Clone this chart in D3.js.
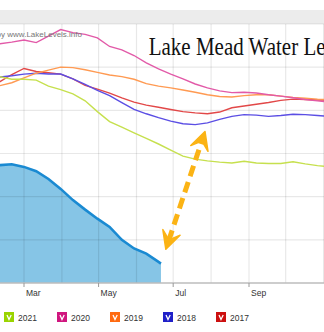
<!DOCTYPE html>
<html>
  <head>
    <meta charset="utf-8">
    <title>Lake Mead Water Levels</title>
    <style>
body {
  margin: 0;
  background: #fff;
}
svg {
  display: block;
}
    </style>
  </head>
  <body>
    <div id="chart"></div>
    <script src="https://cdn.jsdelivr.net/npm/d3@7/dist/d3.min.js"></script>
    <script>

    // sample dates (month-day), every 10 days
    var days = ['02-09', '02-19', '03-01', '03-11', '03-21', '03-31', '04-10', '04-20', '04-30',
                '05-10', '05-20', '05-30', '06-09', '06-19', '06-29', '07-09', '07-19', '07-29',
                '08-08', '08-18', '08-28', '09-07', '09-17', '09-27', '10-07', '10-17', '10-27', '11-06'];

    // lake elevation, feet
    var level2021 = [1087.8, 1087.2, 1087.2, 1087.0, 1085.6, 1084.8, 1083.8, 1082.2, 1079.7,
                     1077.4, 1076.1, 1074.8, 1073.5, 1072.2, 1070.8, 1069.4, 1068.7, 1068.3,
                     1068.0, 1067.8, 1068.2, 1067.8, 1067.7, 1067.7, 1068.1, 1067.6, 1067.2, 1066.9];
    var level2020 = [1095.4, 1095.8, 1096.3, 1095.7, 1097.2, 1098.7, 1098.0, 1097.6, 1096.8,
                     1094.8, 1094.0, 1092.7, 1091.0, 1089.6, 1088.4, 1087.3, 1086.1, 1085.2,
                     1084.5, 1084.1, 1084.2, 1084.0, 1083.6, 1083.3, 1082.9, 1082.5, 1082.2, 1081.9];
    var level2019 = [1085.7, 1086.4, 1087.5, 1088.6, 1089.3, 1090.0, 1089.9, 1089.4, 1088.8,
                     1088.2, 1087.8, 1087.2, 1086.2, 1085.6, 1085.2, 1084.7, 1084.2, 1083.6,
                     1083.2, 1083.1, 1083.4, 1083.6, 1083.6, 1083.3, 1083.0, 1082.8, 1082.6, 1082.5];
    var level2018 = [1087.7, 1088.0, 1088.4, 1088.6, 1088.4, 1088.4, 1087.3, 1086.0, 1084.6,
                     1083.4, 1081.8, 1080.2, 1079.2, 1078.3, 1077.5, 1076.9, 1076.7, 1077.1,
                     1077.9, 1078.6, 1079.0, 1078.9, 1078.6, 1078.8, 1079.1, 1079.0, 1078.8, 1078.6];
    var level2017 = [1086.6, 1088.3, 1089.7, 1089.0, 1088.7, 1088.4, 1087.3, 1085.8, 1084.9,
                     1084.0, 1082.9, 1081.9, 1081.2, 1080.7, 1080.2, 1079.7, 1079.4, 1079.2,
                     1079.6, 1080.6, 1081.0, 1081.4, 1081.8, 1082.3, 1082.6, 1082.5, 1082.4, 1082.4];

    // current year, shown as area
    var days2022 = ['02-09', '02-19', '03-01', '03-11', '03-21', '03-31', '04-10', '04-20', '04-30',
                    '05-10', '05-20', '05-30', '06-09', '06-19', '06-21'];
    var level2022 = [1067.3, 1067.5, 1066.9, 1065.9, 1064.1, 1061.8, 1059.2, 1057.0, 1054.9,
                     1053.0, 1050.0, 1048.0, 1046.8, 1044.9, 1044.5];

    var years = ['2021', '2020', '2019', '2018', '2017'];
    var lineColors = ['#c6e04e', '#e25aa8', '#ff9a52', '#5b4ee4', '#e24848'];
    var boxColors = ['#9ad400', '#d0167f', '#ff6a10', '#2020c8', '#cc1010'];
    var yearLevels = [level2021, level2020, level2019, level2018, level2017];

    var monthLabels = ['Mar', 'May', 'Jul', 'Sep'];
    var levelTicks = [1040, 1050, 1060, 1070, 1080, 1090, 1100];

    // annotation arrow endpoints [date, level]
    var arrowFrom = ['06-25', 1047.8],
        arrowTo = ['07-27', 1075.1];

    var parseDay = function(s) { return d3.utcParse('%Y-%m-%d')('2022-' + s); };

    var width = 324,
        height = 332;

    var x = d3.scaleUtc()
        .domain([parseDay('03-01'), parseDay('09-01')])
        .range([24, 249]);

    var y = d3.scaleLinear()
        .domain([1040, 1100])
        .range([283, 24]);

    var svg = d3.select('#chart').append('svg')
        .attr('width', width)
        .attr('height', height)
        .style('font-family', '"Liberation Sans", Arial, sans-serif');

    // header band
    svg.append('rect')
        .attr('x', 0)
        .attr('y', 10)
        .attr('width', width)
        .attr('height', 14)
        .style('fill', '#ececec');

    // current year area
    var pts2022 = days2022.map(function(d, i) { return [parseDay(d), level2022[i]]; });
    var area = d3.area()
        .x(function(d) { return x(d[0]); })
        .y0(y(1040))
        .y1(function(d) { return y(d[1]); });
    var topLine = d3.line()
        .x(function(d) { return x(d[0]); })
        .y(function(d) { return y(d[1]); });

    svg.append('path')
        .datum(pts2022)
        .attr('d', area)
        .style('fill', '#86c5e6');

    // grid
    var months = d3.utcMonth.range(parseDay('02-01'), parseDay('12-01'));
    svg.append('g').selectAll('line')
        .data(months)
        .enter()
        .append('line')
            .attr('x1', function(d) { return x(d); })
            .attr('x2', function(d) { return x(d); })
            .attr('y1', y(1100))
            .attr('y2', y(1040))
            .style('stroke', 'rgba(0,0,0,0.09)')
            .style('stroke-width', 1.2);
    svg.append('g').selectAll('line')
        .data(levelTicks.slice(1))
        .enter()
        .append('line')
            .attr('x1', 0)
            .attr('x2', width)
            .attr('y1', function(d) { return y(d); })
            .attr('y2', function(d) { return y(d); })
            .style('stroke', 'rgba(0,0,0,0.09)')
            .style('stroke-width', 1.2);

    svg.append('path')
        .datum(pts2022)
        .attr('d', topLine)
        .style('fill', 'none')
        .style('stroke', '#1a8ad2')
        .style('stroke-width', 2.6);

    // past years
    var line = d3.line()
        .x(function(d, i) { return x(parseDay(days[i])); })
        .y(function(d) { return y(d); });

    svg.append('g').selectAll('path')
        .data(yearLevels.slice().reverse())
        .enter()
        .append('path')
            .attr('d', line)
            .style('fill', 'none')
            .style('stroke', function(d, i) { return lineColors.slice().reverse()[i]; })
            .style('stroke-width', 1.4);

    // x axis
    svg.append('line')
        .attr('x1', 0)
        .attr('x2', width)
        .attr('y1', y(1040))
        .attr('y2', y(1040))
        .style('stroke', '#bdbdbd')
        .style('stroke-width', 1.5);

    var labelMonths = months.filter(function(d) { return monthLabels.indexOf(d3.utcFormat('%b')(d)) >= 0; });
    var ticks = svg.append('g').selectAll('g')
        .data(labelMonths)
        .enter()
        .append('g')
            .attr('transform', function(d) { return 'translate(' + x(d) + ',' + y(1040) + ')'; });
    ticks.append('line')
        .attr('y2', 4)
        .style('stroke', '#999');
    ticks.append('text')
        .attr('x', 2)
        .attr('y', 13)
        .style('font-size', '8.5px')
        .style('fill', '#333')
        .text(d3.utcFormat('%b'));

    // watermark and title
    svg.append('text')
        .attr('x', 82)
        .attr('y', 36.5)
        .attr('text-anchor', 'end')
        .style('font-size', '8px')
        .style('fill', '#777')
        .text('by www.LakeLevels.info');

    svg.append('text')
        .attr('transform', 'translate(148.7,55) scale(0.84,1)')
        .style('font-family', '"Liberation Serif", "Times New Roman", serif')
        .style('font-size', '25px')
        .style('fill', '#111')
        .text('Lake Mead Water Levels');

    // dashed double arrow
    var a = [x(parseDay(arrowFrom[0])), y(arrowFrom[1])],
        b = [x(parseDay(arrowTo[0])), y(arrowTo[1])],
        len = Math.hypot(b[0] - a[0], b[1] - a[1]),
        ux = (b[0] - a[0]) / len,
        uy = (b[1] - a[1]) / len;

    svg.append('line')
        .attr('x1', a[0] + ux * 9)
        .attr('y1', a[1] + uy * 9)
        .attr('x2', b[0] - ux * 9)
        .attr('y2', b[1] - uy * 9)
        .style('stroke', '#fbb314')
        .style('stroke-width', 5)
        .style('stroke-dasharray', '11,6');

    function head(tip, dx, dy) {
      var ang = 27 * Math.PI / 180,
          l = 20,
          w1 = [tip[0] + l * (dx * Math.cos(ang) - dy * Math.sin(ang)), tip[1] + l * (dx * Math.sin(ang) + dy * Math.cos(ang))],
          w2 = [tip[0] + l * (dx * Math.cos(-ang) - dy * Math.sin(-ang)), tip[1] + l * (dx * Math.sin(-ang) + dy * Math.cos(-ang))],
          n = [tip[0] + dx * 10, tip[1] + dy * 10];
      return 'M' + tip + 'L' + w1 + 'L' + n + 'L' + w2 + 'Z';
    }
    svg.append('path')
        .attr('d', head(b, -ux, -uy) + head(a, ux, uy))
        .style('fill', '#fbb314')
        .style('stroke', '#fbb314')
        .style('stroke-width', 1.5)
        .style('stroke-linejoin', 'round');

    // legend
    var legend = svg.append('g').selectAll('g')
        .data(years)
        .enter()
        .append('g')
            .attr('transform', function(d, i) { return 'translate(' + (4 + i * 53) + ',312)'; });
    legend.append('rect')
        .attr('width', 10)
        .attr('height', 10)
        .style('fill', function(d, i) { return boxColors[i]; });
    legend.append('path')
        .attr('d', 'M3,3L5,7.5L7.2,3')
        .style('fill', 'none')
        .style('stroke', '#fff')
        .style('stroke-width', 1.3);
    legend.append('text')
        .attr('x', 14)
        .attr('y', 9)
        .style('font-size', '8.5px')
        .style('fill', '#333')
        .text(function(d) { return d; });

    </script>
  </body>
</html>
